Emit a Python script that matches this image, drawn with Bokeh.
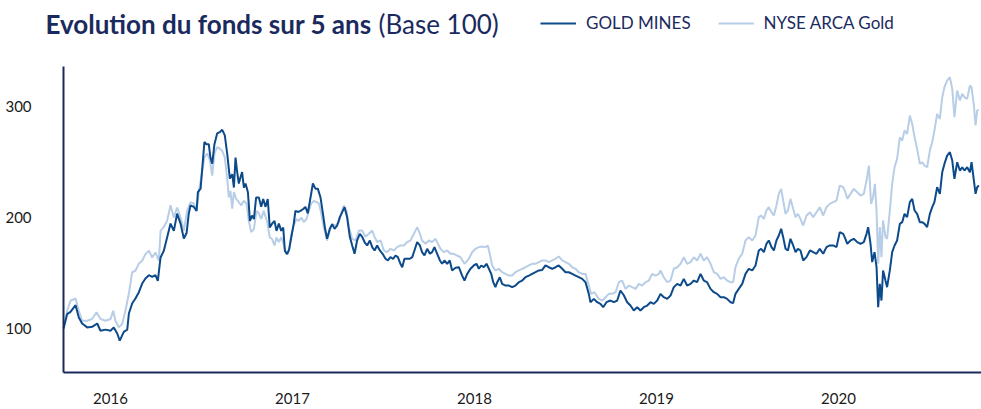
from bokeh.plotting import figure
from bokeh.models import (ColumnDataSource, FixedTicker, Legend, LegendItem, Label,
                          CustomJSTickFormatter, Range1d)
from bokeh.embed import file_html
from bokeh.resources import INLINE

# ---- data (time in decimal years, value base 100) ----
gm_t = [2015.742, 2015.762, 2015.780, 2015.808, 2015.826, 2015.844, 2015.872, 2015.899, 2015.927, 2015.945,
        2015.973, 2016.000, 2016.018, 2016.037, 2016.051, 2016.073, 2016.092, 2016.101, 2016.119, 2016.137,
        2016.156, 2016.174, 2016.192, 2016.211, 2016.229, 2016.247, 2016.260, 2016.275, 2016.293, 2016.311,
        2016.330, 2016.348, 2016.366, 2016.385, 2016.403, 2016.418, 2016.430, 2016.440, 2016.458, 2016.473,
        2016.480, 2016.495, 2016.509, 2016.516, 2016.527, 2016.540, 2016.549, 2016.559, 2016.571, 2016.586,
        2016.601, 2016.614, 2016.628, 2016.641, 2016.656, 2016.669, 2016.678, 2016.687, 2016.696, 2016.705,
        2016.714, 2016.723, 2016.733, 2016.742, 2016.755, 2016.766, 2016.778, 2016.788, 2016.800, 2016.815,
        2016.828, 2016.839, 2016.852, 2016.864, 2016.875, 2016.888, 2016.901, 2016.912, 2016.925, 2016.938,
        2016.949, 2016.958, 2016.971, 2016.982, 2016.993, 2017.007, 2017.016, 2017.029, 2017.044, 2017.059,
        2017.071, 2017.084, 2017.099, 2017.112, 2017.126, 2017.139, 2017.154, 2017.167, 2017.178, 2017.190,
        2017.205, 2017.218, 2017.231, 2017.245, 2017.260, 2017.273, 2017.286, 2017.300, 2017.315, 2017.328,
        2017.341, 2017.355, 2017.370, 2017.383, 2017.396, 2017.410, 2017.425, 2017.438, 2017.451, 2017.465,
        2017.480, 2017.495, 2017.511, 2017.524, 2017.538, 2017.553, 2017.566, 2017.579, 2017.593, 2017.603,
        2017.615, 2017.630, 2017.645, 2017.658, 2017.670, 2017.685, 2017.700, 2017.712, 2017.725, 2017.740,
        2017.755, 2017.767, 2017.780, 2017.795, 2017.810, 2017.822, 2017.835, 2017.850, 2017.864, 2017.877,
        2017.896, 2017.914, 2017.932, 2017.945, 2017.960, 2017.978, 2017.996, 2018.011, 2018.024, 2018.037,
        2018.051, 2018.066, 2018.079, 2018.092, 2018.103, 2018.115, 2018.125, 2018.139, 2018.152, 2018.170,
        2018.189, 2018.207, 2018.225, 2018.244, 2018.262, 2018.280, 2018.299, 2018.317, 2018.335, 2018.354,
        2018.372, 2018.390, 2018.408, 2018.427, 2018.445, 2018.463, 2018.482, 2018.500, 2018.518, 2018.537,
        2018.555, 2018.573, 2018.592, 2018.610, 2018.628, 2018.637, 2018.656, 2018.674, 2018.692, 2018.707,
        2018.725, 2018.747, 2018.766, 2018.784, 2018.802, 2018.821, 2018.839, 2018.857, 2018.875, 2018.894,
        2018.912, 2018.930, 2018.949, 2018.967, 2018.985, 2019.004, 2019.022, 2019.040, 2019.059, 2019.077,
        2019.095, 2019.114, 2019.132, 2019.150, 2019.168, 2019.187, 2019.205, 2019.223, 2019.242, 2019.260,
        2019.278, 2019.297, 2019.315, 2019.333, 2019.352, 2019.370, 2019.388, 2019.407, 2019.421, 2019.434,
        2019.452, 2019.471, 2019.489, 2019.507, 2019.526, 2019.544, 2019.562, 2019.575, 2019.590, 2019.604,
        2019.617, 2019.632, 2019.645, 2019.659, 2019.672, 2019.685, 2019.696, 2019.709, 2019.722, 2019.736,
        2019.751, 2019.764, 2019.777, 2019.791, 2019.806, 2019.824, 2019.843, 2019.861, 2019.879, 2019.897,
        2019.916, 2019.934, 2019.952, 2019.971, 2019.989, 2020.007, 2020.026, 2020.038, 2020.048, 2020.066,
        2020.084, 2020.103, 2020.121, 2020.139, 2020.154, 2020.163, 2020.176, 2020.185, 2020.198, 2020.209,
        2020.218, 2020.227, 2020.236, 2020.245, 2020.258, 2020.267, 2020.282, 2020.295, 2020.308, 2020.322,
        2020.337, 2020.350, 2020.363, 2020.377, 2020.392, 2020.405, 2020.418, 2020.432, 2020.447, 2020.460,
        2020.473, 2020.487, 2020.502, 2020.515, 2020.527, 2020.542, 2020.557, 2020.570, 2020.582, 2020.597,
        2020.612, 2020.625, 2020.637, 2020.652, 2020.667, 2020.680, 2020.692, 2020.707, 2020.722, 2020.731,
        2020.744, 2020.753, 2020.762, 2020.771]
gm_v = [100, 113, 115, 121, 110, 104.5, 101, 101.5, 104.5, 98,
        99, 98, 101, 95.5, 89, 97, 99, 113.5, 122.5, 127,
        132.7, 140.5, 145, 148, 146.5, 148, 143, 164, 170, 182,
        194.5, 188, 203.5, 194.5, 181, 186, 203.5, 211, 209.5, 206,
        222.8, 226, 254, 268, 266, 266, 254, 248.5, 266, 275.7,
        277, 279, 274, 257.7, 235, 239, 227, 254, 241, 230.6,
        236, 241, 227, 230.6, 222.8, 197, 201.8, 198.6, 218, 218,
        209.6, 216.7, 209.6, 216.7, 191, 194.5, 197, 188, 194.5, 188,
        191, 170, 167, 171.5, 182, 194.5, 206, 205, 206, 207.7,
        209.6, 203.8, 218, 230.6, 226, 226, 218, 203.8, 191, 180.8,
        189.8, 194, 189.8, 192.6, 200.3, 204.8, 209.3, 200.3, 182.6, 174.8,
        167.3, 179.3, 185.3, 182.6, 177.9, 174.8, 179.3, 173.3, 170.3, 174.8,
        170.3, 167.3, 162.8, 161.3, 164.3, 162.8, 165.8, 164.3, 158.3, 155.2,
        162.8, 162.8, 162.8, 164.3, 170.3, 177.9, 174.8, 168.8, 165.8, 171.8,
        167.3, 168.8, 173.3, 167.3, 161.3, 158.3, 161.3, 158.3, 161.3, 152.3,
        154.7, 155.2, 147.7, 143.2, 149.2, 153.8, 156.8, 158.3, 153.8, 156.8,
        155.2, 158.3, 153.8, 149.2, 141.7, 137.2, 141.7, 146.2, 140.2, 138.7,
        138.7, 137.2, 138.7, 141.7, 143.2, 146.2, 147.7, 149.2, 150.7, 152.3,
        152.8, 156.8, 155.2, 153.8, 155.2, 156.8, 153.8, 150.7, 150.7, 149.2,
        147.7, 146.2, 144.7, 141.7, 131.2, 123.7, 126.7, 123.7, 122.2, 119.2,
        123.7, 125.2, 123.7, 125.2, 134.2, 129.7, 123.7, 120.7, 116.2, 119.2,
        116.2, 119.2, 120.7, 123.7, 122.2, 125.2, 131.2, 128.2, 126.7, 129.7,
        137.2, 140.2, 138.7, 144.7, 138.7, 140.2, 143.2, 141.7, 149.2, 143.2,
        141.7, 135.7, 132.7, 131.2, 128.2, 128.2, 126.7, 123.7, 122.9, 131.2,
        135.7, 140.2, 149.2, 153.8, 152.3, 156.8, 170.3, 171.8, 168.8, 176.3,
        179.3, 173.3, 170.3, 179.3, 183.8, 189.8, 182.3, 171.8, 170.3, 180.8,
        174.8, 168.8, 171.8, 170.3, 161.3, 164.3, 170.3, 168.8, 167.3, 171.8,
        167.3, 173.3, 174.8, 174.8, 173.3, 186.8, 185.3, 180.8, 176.3, 179.3,
        180.8, 177.8, 176.3, 177.8, 185.3, 191.3, 176.3, 159.8, 168.8, 155.3,
        119.2, 140.2, 125.2, 152.3, 143.2, 137.2, 152.3, 168.8, 174.8, 179.3,
        194.3, 195.8, 203.3, 200.3, 213.8, 216.8, 206.3, 203.3, 195.8, 195.8,
        194.3, 191.3, 203.3, 209.3, 213.8, 227.3, 221.3, 240.8, 248.3, 255.8,
        258.8, 251.3, 234.8, 249.8, 242.3, 245.3, 242.3, 245.3, 240.8, 249.8,
        233.3, 221.3, 227.3, 228.8]

ny_t = [2015.742, 2015.762, 2015.780, 2015.808, 2015.826, 2015.844, 2015.872, 2015.899, 2015.923, 2015.945,
        2015.973, 2016.000, 2016.015, 2016.027, 2016.046, 2016.064, 2016.082, 2016.101, 2016.119, 2016.137,
        2016.156, 2016.174, 2016.192, 2016.211, 2016.229, 2016.247, 2016.266, 2016.275, 2016.293, 2016.311,
        2016.330, 2016.348, 2016.366, 2016.385, 2016.403, 2016.421, 2016.440, 2016.458, 2016.473, 2016.485,
        2016.504, 2016.516, 2016.531, 2016.546, 2016.559, 2016.571, 2016.586, 2016.601, 2016.614, 2016.628,
        2016.641, 2016.650, 2016.659, 2016.669, 2016.678, 2016.691, 2016.705, 2016.718, 2016.733, 2016.747,
        2016.760, 2016.773, 2016.788, 2016.802, 2016.815, 2016.828, 2016.842, 2016.861, 2016.875, 2016.888,
        2016.901, 2016.912, 2016.925, 2016.938, 2016.952, 2016.965, 2016.980, 2016.993, 2017.007, 2017.022,
        2017.035, 2017.049, 2017.062, 2017.077, 2017.090, 2017.103, 2017.117, 2017.132, 2017.145, 2017.158,
        2017.172, 2017.190, 2017.205, 2017.218, 2017.236, 2017.255, 2017.267, 2017.282, 2017.297, 2017.310,
        2017.328, 2017.346, 2017.365, 2017.383, 2017.401, 2017.419, 2017.438, 2017.451, 2017.465, 2017.484,
        2017.502, 2017.520, 2017.538, 2017.557, 2017.575, 2017.593, 2017.612, 2017.630, 2017.648, 2017.667,
        2017.685, 2017.700, 2017.712, 2017.731, 2017.749, 2017.767, 2017.786, 2017.799, 2017.813, 2017.832,
        2017.850, 2017.868, 2017.886, 2017.923, 2017.945, 2017.969, 2017.987, 2018.005, 2018.024, 2018.042,
        2018.060, 2018.073, 2018.084, 2018.097, 2018.115, 2018.134, 2018.152, 2018.170, 2018.189, 2018.207,
        2018.225, 2018.244, 2018.262, 2018.280, 2018.299, 2018.317, 2018.335, 2018.354, 2018.372, 2018.390,
        2018.408, 2018.427, 2018.445, 2018.463, 2018.482, 2018.500, 2018.518, 2018.537, 2018.555, 2018.573,
        2018.592, 2018.610, 2018.628, 2018.641, 2018.659, 2018.683, 2018.702, 2018.720, 2018.738, 2018.756,
        2018.775, 2018.793, 2018.811, 2018.830, 2018.848, 2018.866, 2018.885, 2018.903, 2018.921, 2018.940,
        2018.958, 2018.976, 2018.995, 2019.013, 2019.022, 2019.040, 2019.059, 2019.077, 2019.095, 2019.114,
        2019.132, 2019.150, 2019.168, 2019.187, 2019.205, 2019.223, 2019.242, 2019.260, 2019.278, 2019.297,
        2019.315, 2019.333, 2019.352, 2019.370, 2019.388, 2019.407, 2019.421, 2019.434, 2019.452, 2019.471,
        2019.489, 2019.507, 2019.526, 2019.544, 2019.562, 2019.575, 2019.590, 2019.604, 2019.617, 2019.632,
        2019.645, 2019.659, 2019.672, 2019.685, 2019.696, 2019.709, 2019.722, 2019.736, 2019.751, 2019.764,
        2019.777, 2019.791, 2019.806, 2019.824, 2019.843, 2019.861, 2019.879, 2019.897, 2019.916, 2019.934,
        2019.952, 2019.971, 2019.989, 2020.007, 2020.026, 2020.038, 2020.048, 2020.066, 2020.084, 2020.103,
        2020.121, 2020.139, 2020.154, 2020.167, 2020.179, 2020.190, 2020.200, 2020.209, 2020.218, 2020.227,
        2020.236, 2020.245, 2020.258, 2020.267, 2020.282, 2020.295, 2020.308, 2020.322, 2020.337, 2020.350,
        2020.363, 2020.377, 2020.392, 2020.405, 2020.418, 2020.432, 2020.447, 2020.460, 2020.473, 2020.487,
        2020.502, 2020.515, 2020.527, 2020.542, 2020.557, 2020.570, 2020.582, 2020.597, 2020.612, 2020.625,
        2020.637, 2020.652, 2020.667, 2020.680, 2020.692, 2020.707, 2020.722, 2020.731, 2020.744, 2020.753,
        2020.762, 2020.771]
ny_v = [100, 116, 125, 127, 116, 107, 107, 108.5, 114.7, 108.5,
        107, 108.5, 116, 107, 101, 104, 116, 131.5, 150.7, 152,
        158.5, 161, 167, 170, 164, 168.5, 161, 188, 191.5, 197,
        211, 200, 209, 200, 188, 206, 213.8, 212.6, 206, 222.8,
        242, 254, 257.7, 251.6, 237.8, 257.7, 263.4, 262, 260, 254,
        236, 218, 224, 208, 222.8, 216.7, 213.8, 211, 215, 212.6,
        197, 186.8, 189.6, 206, 203.8, 198.6, 206, 196, 182, 180.6,
        174.8, 182, 178, 182, 176, 167, 170, 184, 193, 198.6,
        197, 200, 196, 198.6, 206, 212.6, 215, 213.8, 212.6, 203.8,
        191, 179.3, 188.3, 194, 192.6, 195.8, 203, 210.8, 206, 191.3,
        180.8, 179.3, 188.3, 188.3, 182.6, 185.3, 188.3, 182.6, 177.9, 179.3,
        170.3, 168.8, 171.8, 170.3, 173.3, 174.8, 174.8, 177.9, 179.3, 185.3,
        191.3, 185.3, 179.3, 176.3, 179.3, 177.9, 180.8, 176.3, 171.8, 168.8,
        170.3, 167.3, 167.3, 164.2, 158.3, 162.8, 168.7, 171.8, 173.3, 173.9,
        173.3, 174.8, 167.3, 156.8, 152.3, 153.8, 150.7, 149.2, 147.7, 147.7,
        150.7, 152.3, 153.8, 155.2, 156.8, 158.3, 158.3, 159.8, 161.3, 161.3,
        159.8, 161.3, 162.8, 164.9, 161.3, 159.8, 158.3, 155.2, 153.8, 150.7,
        149.2, 149.2, 138.7, 131.2, 132.7, 126.7, 125.2, 128.2, 131.2, 131.2,
        132.7, 141.7, 143.2, 135.7, 138.7, 137.2, 135.7, 140.2, 138.7, 141.7,
        143.2, 149.2, 147.7, 149.2, 152.3, 146.2, 141.7, 143.2, 153.8, 155.2,
        158.3, 164.2, 158.3, 159.8, 164.2, 161.3, 167.3, 161.3, 164.2, 158.3,
        150.7, 149.2, 144.7, 146.2, 143.2, 141.7, 141.7, 155.3, 162.8, 167.3,
        179.3, 182.3, 179.3, 183.8, 200.3, 201.8, 198.8, 206.3, 209.3, 204.8,
        201.8, 210.8, 221.3, 225.8, 215.3, 203.3, 206.3, 216.8, 207.8, 200.3,
        203.3, 198.8, 192.8, 201.8, 204.8, 200.3, 204.8, 209.3, 201.8, 209.3,
        212.3, 213.8, 215.3, 228.8, 227.3, 222.8, 216.8, 221.3, 225.8, 222.8,
        219.8, 221.3, 233.3, 246.8, 212.3, 218.3, 230.3, 206.3, 158.3, 191.3,
        164.3, 197.3, 182.3, 180.8, 206.3, 230.3, 245.3, 252.8, 272.3, 269.3,
        278.3, 275.3, 291.8, 284.3, 272.3, 261.8, 248.3, 249.8, 246.8, 245.3,
        260.3, 267.8, 278.3, 293.3, 288.8, 308.4, 317.4, 323.4, 326.4, 315.9,
        290.3, 314.4, 305.4, 311.4, 308.4, 306.9, 318.9, 317.4, 300.9, 282.9,
        296.4, 297.0]

year_ticks = [2016, 2017, 2018, 2019, 2020]
value_ticks = [100, 200, 300]
title_bold = "Evolution du fonds sur 5 ans"
title_normal = "(Base 100)"
series_names = ["GOLD MINES", "NYSE ARCA Gold"]

NAVY = "#1b2a5e"
DARK = "#0d4a8a"
LIGHT = "#b8cde6"
FONT = "Lato"
W, H = 981, 409

# axis extents (data space) and full-canvas view ranges
X_START, X_END = 2015.742, 2020.786
Y_BOTTOM, Y_TOP = 60.4, 336.0
VIEW_X = (2015.3956, 2020.7857)
VIEW_Y = (27.03, 395.5)

p = figure(width=W, height=H, output_backend="svg", toolbar_location=None,
           x_range=Range1d(*VIEW_X), y_range=Range1d(*VIEW_Y),
           min_border_left=0, min_border_right=0, min_border_top=0, min_border_bottom=0)
p.outline_line_color = None
p.grid.grid_line_color = None

src_ny = ColumnDataSource(dict(t=ny_t, v=ny_v))
src_gm = ColumnDataSource(dict(t=gm_t, v=gm_v))
r_ny = p.line("t", "v", source=src_ny, line_color=LIGHT, line_width=2)
r_gm = p.line("t", "v", source=src_gm, line_color=DARK, line_width=2)

p.yaxis.ticker = FixedTicker(ticks=value_ticks)
p.xaxis.ticker = FixedTicker(ticks=year_ticks)
p.xaxis.formatter = CustomJSTickFormatter(code="return tick.toFixed(0);")
p.yaxis.fixed_location = X_START
p.xaxis.fixed_location = Y_BOTTOM
p.yaxis.bounds = (Y_BOTTOM, Y_TOP)
p.xaxis.bounds = (X_START, X_END)
for ax in (p.xaxis[0], p.yaxis[0]):
    ax.axis_line_color = NAVY
    ax.axis_line_width = 2
    ax.major_tick_line_color = None
    ax.minor_tick_line_color = None
    ax.major_label_text_font = FONT
    ax.major_label_text_font_size = "15px"
    ax.major_label_text_color = "#1a1a1a"
p.yaxis.major_label_standoff = 26
p.xaxis.major_label_standoff = 15

# title (screen px from bottom-left of canvas)
p.add_layout(Label(x=45, y=H - 23, x_units="screen", y_units="screen", text=title_bold,
                   text_font=FONT, text_font_style="bold", text_font_size="26px",
                   text_color=NAVY, text_baseline="alphabetic"))
p.add_layout(Label(x=378, y=H - 23, x_units="screen", y_units="screen", text=title_normal,
                   text_font=FONT, text_font_size="26px",
                   text_color=NAVY, text_baseline="alphabetic"))

legend = Legend(items=[LegendItem(label=series_names[0], renderers=[r_gm]),
                       LegendItem(label=series_names[1], renderers=[r_ny])],
                orientation="horizontal", location=(540, H - 33),
                glyph_width=36, glyph_height=20, label_height=20, label_standoff=10, spacing=27,
                padding=0, margin=0, border_line_color=None, background_fill_alpha=0,
                label_text_font=FONT, label_text_font_size="17px", label_text_color=NAVY)
p.add_layout(legend, "center")

open("out.html", "w").write(file_html(p, INLINE))
